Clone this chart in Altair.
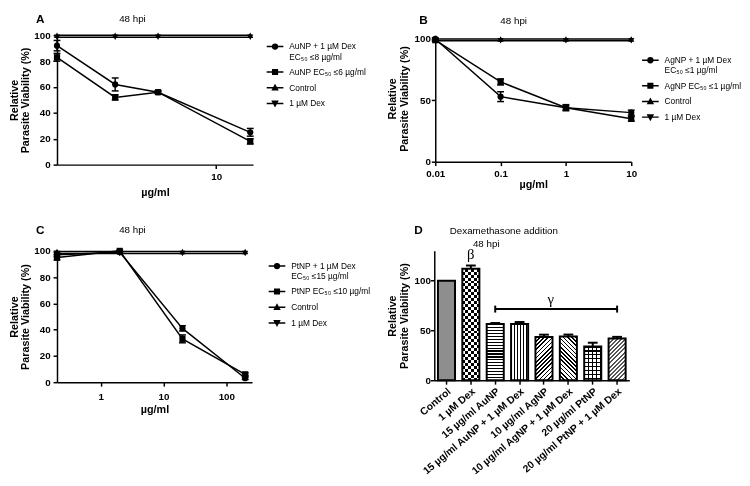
import math
import altair as alt
import pandas as pd

FONT = "Liberation Sans"

# ---------------- data ----------------
KEYS = ["np_dex", "np", "ctrl", "dex"]

# Panel A (AuNP)
A_x = [1.5, 3, 5, 15]
A_np_dex = [92, 62, 56, 25]
A_np_dex_err = [4, 5, 1, 3]
A_np = [83, 52, 56, 18]
A_np_err = [3, 2, 1, 2]
A_ctrl = [100, 100, 100, 100]
A_dex = [98.5, 98.5, 98.5, 98.5]
A_labels = ["AuNP + 1 µM Dex|EC₅₀ ≤8 µg/ml", "AuNP EC₅₀ ≤6 µg/ml", "Control", "1 µM Dex"]
A_xticks = [10]
A_yticks = [0, 20, 40, 60, 80, 100]

# Panel B (AgNP)
B_x = [0.01, 0.1, 1, 10]
B_np_dex = [100, 53, 44, 40]
B_np_dex_err = [1, 4, 1.5, 2]
B_np = [99, 65, 44, 35]
B_np_err = [1, 2.5, 2.5, 2]
B_ctrl = [100, 100, 100, 100]
B_dex = [98.5, 98.5, 98.5, 98.5]
B_labels = ["AgNP + 1 µM Dex|EC₅₀ ≤1 µg/ml", "AgNP EC₅₀ ≤1 µg/ml", "Control", "1 µM Dex"]
B_xticks = [0.01, 0.1, 1, 10]
B_yticks = [0, 50, 100]

# Panel C (PtNP)
C_x = [0.2, 2, 20, 200]
C_np_dex = [97, 99, 41, 3]
C_np_dex_err = [1.5, 0.5, 2, 1]
C_np = [95, 100, 33, 6]
C_np_err = [2, 0.5, 3, 1]
C_ctrl = [99.5, 99.5, 99.5, 99.5]
C_dex = [98, 98, 98, 98]
C_labels = ["PtNP + 1 µM Dex|EC₅₀ ≤15 µg/ml", "PtNP EC₅₀ ≤10 µg/ml", "Control", "1 µM Dex"]
C_xticks = [1, 10, 100]
C_yticks = [0, 20, 40, 60, 80, 100]

ZERO = [0, 0, 0, 0]

# Panel D (bars)
D_cats = ["Control", "1 µM Dex", "15 µg/ml AuNP", "15 µg/ml AuNP + 1 µM Dex",
          "10 µg/ml AgNP", "10 µg/ml AgNP + 1 µM Dex", "20 µg/ml PtNP",
          "20 µg/ml PtNP + 1 µM Dex"]
D_vals = [100, 112, 56.5, 56.5, 43.5, 44, 34, 42]
D_errs = [0, 3.3, 1, 2, 2.3, 1.9, 3.7, 1.6]
D_yticks = [0, 50, 100]
D_bracket = [71.5]
D_bracket_caps = [68, 75]
D_beta_y = [127]
D_gamma_y = [82]

# ---------------- styling helpers ----------------
SHAPES = ["circle", "square", "triangle-up", "triangle-down"]
# legend glyphs: a line with a solid marker (marker filled with strokes)
PATHS = [
    "M-1,0H1M-0.29,0A0.29,0.29,0,1,1,0.29,0A0.29,0.29,0,1,1,-0.29,0"
    "M-0.14,0A0.14,0.14,0,1,1,0.14,0A0.14,0.14,0,1,1,-0.14,0",
    "M-1,0H1M-0.28,-0.28H0.28V0.28H-0.28ZM-0.28,-0.14H0.28M-0.28,0.14H0.28",
    "M-1,0H1M-0.3,0.25L0,-0.3L0.3,0.25ZM-0.2,0.12H0.2M-0.1,-0.05H0.1",
    "M-1,0H1M-0.3,-0.25L0,0.3L0.3,-0.25ZM-0.2,-0.12H0.2M-0.1,0.05H0.1",
]
YTITLE = ["Relative", "Parasite Viability (%)"]


def txt(s, x, y, size=10, weight="normal", font=FONT):
    return alt.Chart(pd.DataFrame({"t": [s]})).mark_text(
        font=font, fontSize=size, fontWeight=weight, color="black",
        align="center", baseline="middle").encode(
        x=alt.value(x), y=alt.value(y), text="t:N")


def line_panel(xs, ys_list, errs_list, labels, xdom, xticks, ydom, yticks,
               W, H, letter, letter_xy, title_xy, leg_xy,
               xlab_pad, xtitle_pad, ylab_pad, ytitle_pad):
    rows = []
    for key, lab, ys, errs in zip(KEYS, labels, ys_list, errs_list):
        for x, y, e in zip(xs, ys, errs):
            rows.append(dict(x=x, y=y, err=e, lo=y - e, hi=y + e, key=key, lab=lab))
    df = pd.DataFrame(rows)
    xscale = alt.Scale(type="log", domain=xdom, nice=False)
    yscale = alt.Scale(domain=ydom, nice=False, zero=False)
    xaxis = alt.Axis(values=xticks, format="~g", title="µg/ml", labelOverlap=False,
                     labelFlush=False, labelPadding=xlab_pad, titlePadding=xtitle_pad)
    yaxis = alt.Axis(values=yticks, title=YTITLE, labelOverlap=False,
                     labelPadding=ylab_pad, titlePadding=ytitle_pad)

    def X(f="x"):
        return alt.X(f + ":Q", scale=xscale, axis=xaxis)

    def Y(f):
        return alt.Y(f + ":Q", scale=yscale, axis=yaxis)

    base = alt.Chart(df)
    lines = base.mark_line(color="black", strokeWidth=1.5).encode(
        x=X(), y=Y("y"), detail="key:N")
    ebars = base.transform_filter("datum.err > 0").mark_rule(
        color="black", strokeWidth=1.5).encode(x=X(), y=Y("lo"), y2="hi:Q")
    caps = base.transform_filter("datum.err > 0").transform_fold(
        ["lo", "hi"], as_=["end", "v"]).mark_point(
        shape="M-1,0H1", size=49, strokeWidth=1.5, color="black", filled=False,
        opacity=1).encode(x=X(), y=Y("v"))
    pts = base.mark_point(filled=True, color="black", opacity=1, size=40).encode(
        x=X(), y=Y("y"),
        shape=alt.Shape("key:N", scale=alt.Scale(domain=KEYS, range=SHAPES), legend=None))
    leg = base.transform_filter("false").mark_point(
        filled=False, color="black", strokeWidth=1.5, opacity=1).encode(
        x=X(), y=Y("y"),
        shape=alt.Shape("lab:N", scale=alt.Scale(domain=labels, range=PATHS),
                        legend=alt.Legend(title=None, orient="none",
                                          legendX=leg_xy[0], legendY=leg_xy[1],
                                          symbolSize=289, symbolStrokeWidth=1.5,
                                          symbolStrokeColor="black",
                                          labelFont=FONT, labelFontSize=8.5,
                                          labelColor="black", labelOffset=5,
                                          rowPadding=1, padding=0,
                                          labelExpr="split(datum.label, '|')")))
    return alt.layer(lines, ebars, caps, pts, leg,
                     txt(letter, letter_xy[0], letter_xy[1], 12, "bold"),
                     txt("48 hpi", title_xy[0], title_xy[1])).resolve_scale(
        shape="independent").properties(width=W, height=H)


A = line_panel(A_x, [A_np_dex, A_np, A_ctrl, A_dex], [A_np_dex_err, A_np_err, ZERO, ZERO],
               A_labels, [1.5, 15.5], A_xticks, [0, 100], A_yticks,
               200, 132, "A", (-17, -17), (77, -17), (213, 2), 3, 5, 3, 3)
B = line_panel(B_x, [B_np_dex, B_np, B_ctrl, B_dex], [B_np_dex_err, B_np_err, ZERO, ZERO],
               B_labels, [0.01, 10], B_xticks, [0, 103], B_yticks,
               200, 129, "B", (-12, -16), (80, -15), (210, 16), 3, 0, 1, 5)
C = line_panel(C_x, [C_np_dex, C_np, C_ctrl, C_dex], [C_np_dex_err, C_np_err, ZERO, ZERO],
               C_labels, [0.2, 257], C_xticks, [0, 100], C_yticks,
               199, 134, "C", (-17, -21), (77, -21), (215, 6), 6, 2, 3, 3)

# ---------------- panel D ----------------
W_D, H_D, D_MAX = 199, 132, 130
STEP = W_D / 8.0
BW = STEP * 0.7


def grad(n, duty, ink, paper, x1, y1, x2, y2):
    stops = []
    k = 0
    while k < n:
        a = k / n
        b = min((k + duty) / n, 1.0)
        c = min((k + 1) / n, 1.0)
        stops += [{"offset": a, "color": ink}, {"offset": b, "color": ink},
                  {"offset": b, "color": paper}, {"offset": c, "color": paper}]
        k += 1
    return {"gradient": "linear", "x1": x1, "y1": y1, "x2": x2, "y2": y2, "stops": stops}


def hstr(h, period, duty, ink, paper):
    return grad(h / period, duty, ink, paper, 0, 0, 0, 1)


def vstr(w, period, duty, ink, paper):
    return grad(w / period, duty, ink, paper, 0, 0, 1, 0)


def dup(w, h, period, duty, ink, paper):
    k = (w + h) / (w * w + h * h)
    return grad((w + h) / (period * math.sqrt(2)), duty, ink, paper, 0, 0, k * w, k * h)


def ddown(w, h, period, duty, ink, paper):
    k = (w + h) / (w * w + h * h)
    return grad((w + h) / (period * math.sqrt(2)), duty, ink, paper, 0, 1, k * w, 1 - k * h)


CLEAR = "rgba(255,255,255,0)"
fills = []
for i, v in enumerate(D_vals):
    h = v * H_D / D_MAX
    if i == 0:
        fills.append([("#8e8e8e", None)])
    elif i == 1:
        fills.append([(hstr(h, 6, 0.5, "black", "white"), None),
                      (vstr(BW, 6, 0.5, "white", CLEAR), "difference")])
    elif i == 2:
        fills.append([(hstr(h, 3, 0.4, "black", "white"), None)])
    elif i == 3:
        fills.append([(vstr(BW, 3, 0.4, "black", "white"), None)])
    elif i == 4:
        fills.append([(dup(BW, h, 3, 0.4, "black", "white"), None)])
    elif i == 5:
        fills.append([(ddown(BW, h, 3, 0.4, "black", "white"), None)])
    elif i == 6:
        fills.append([(hstr(h, 4, 0.3, "black", "white"), None),
                      (vstr(BW, 4, 0.3, "black", CLEAR), None)])
    else:
        fills.append([(dup(BW, h, 3, 0.45, "#555555", "white"), None)])

dfD = pd.DataFrame({"cat": D_cats, "val": D_vals, "err": D_errs})
dfD["top"] = dfD["val"] + dfD["err"]

xsD = alt.Scale(domain=D_cats, paddingInner=0.3, paddingOuter=0.15)
xaxD = alt.Axis(title=None, labelAngle=-40, labelAlign="right",
                labelBaseline="top", labelPadding=2, labelLimit=300,
                labelFontSize=10.5, labelOverlap=False)
ysD = alt.Scale(domain=[0, D_MAX], nice=False)
yaxD = alt.Axis(values=D_yticks, title=YTITLE, labelPadding=0, titlePadding=5,
                labelOverlap=False)


def XD():
    return alt.X("cat:N", scale=xsD, sort=D_cats, axis=xaxD)


def YD(f="val"):
    return alt.Y(f + ":Q", scale=ysD, axis=yaxD)


d_layers = []
for c, fl in zip(D_cats, fills):
    for f, blend in fl:
        kw = {"fill": f, "strokeWidth": 0}
        if blend:
            kw["blend"] = blend
        d_layers.append(alt.Chart(dfD).transform_filter(alt.datum.cat == c)
                        .mark_bar(**kw).encode(x=XD(), y=YD()))
d_layers.append(alt.Chart(dfD).mark_bar(fillOpacity=0, stroke="black", strokeWidth=2)
                .encode(x=XD(), y=YD()))
d_layers.append(alt.Chart(dfD).transform_filter("datum.err > 0")
                .mark_rule(color="black", strokeWidth=2)
                .encode(x=XD(), y=YD(), y2="top:Q"))
d_layers.append(alt.Chart(dfD).transform_filter("datum.err > 0")
                .mark_point(shape="M-1,0H1", size=100, strokeWidth=2, color="black",
                            filled=False, opacity=1)
                .encode(x=XD(), y=YD("top")))
br = pd.DataFrame({"cat": [D_cats[2], D_cats[7]], "val": D_bracket * 2})
d_layers.append(alt.Chart(br).mark_line(color="black", strokeWidth=2)
                .encode(x=XD(), y=YD()))
brc = pd.DataFrame({"cat": [D_cats[2], D_cats[7]], "val": [D_bracket_caps[0]] * 2,
                    "hi": [D_bracket_caps[1]] * 2})
d_layers.append(alt.Chart(brc).mark_rule(color="black", strokeWidth=2)
                .encode(x=XD(), y=YD(), y2="hi:Q"))
sym = pd.DataFrame({"cat": [D_cats[1]], "val": D_beta_y, "t": ["β"]})
d_layers.append(alt.Chart(sym).mark_text(font="Liberation Serif", fontSize=15,
                                         color="black", baseline="middle")
                .encode(x=XD(), y=YD(), text="t:N"))
sym2 = pd.DataFrame({"cat": [D_cats[4]], "val": D_gamma_y, "t": ["γ"]})
d_layers.append(alt.Chart(sym2).mark_text(font="Liberation Serif", fontSize=15,
                                          color="black", baseline="middle", dx=7)
                .encode(x=XD(), y=YD(), text="t:N"))
d_layers.append(txt("D", -16, -21, 12, "bold"))
d_layers.append(txt("Dexamethasone addition", 71, -20))
d_layers.append(txt("48 hpi", 53, -7))

D = alt.layer(*d_layers).properties(width=W_D, height=H_D)

row1 = alt.hconcat(A, B, spacing=20)
row2 = alt.hconcat(C, D, spacing=16)
chart = alt.vconcat(row1, row2, spacing=28).properties(padding=0).configure_view(
    stroke=None).configure_axis(
    domainColor="black", domainWidth=1.5, tickColor="black", tickWidth=1.5, tickSize=4,
    labelColor="black", labelFont=FONT, labelFontSize=10, labelFontWeight="bold",
    titleColor="black", titleFont=FONT, titleFontSize=11, titleFontWeight="bold",
    titleLineHeight=12, grid=False, labelOverlap=False)

chart.save("out.html", embed_options={"renderer": "svg", "actions": False})
